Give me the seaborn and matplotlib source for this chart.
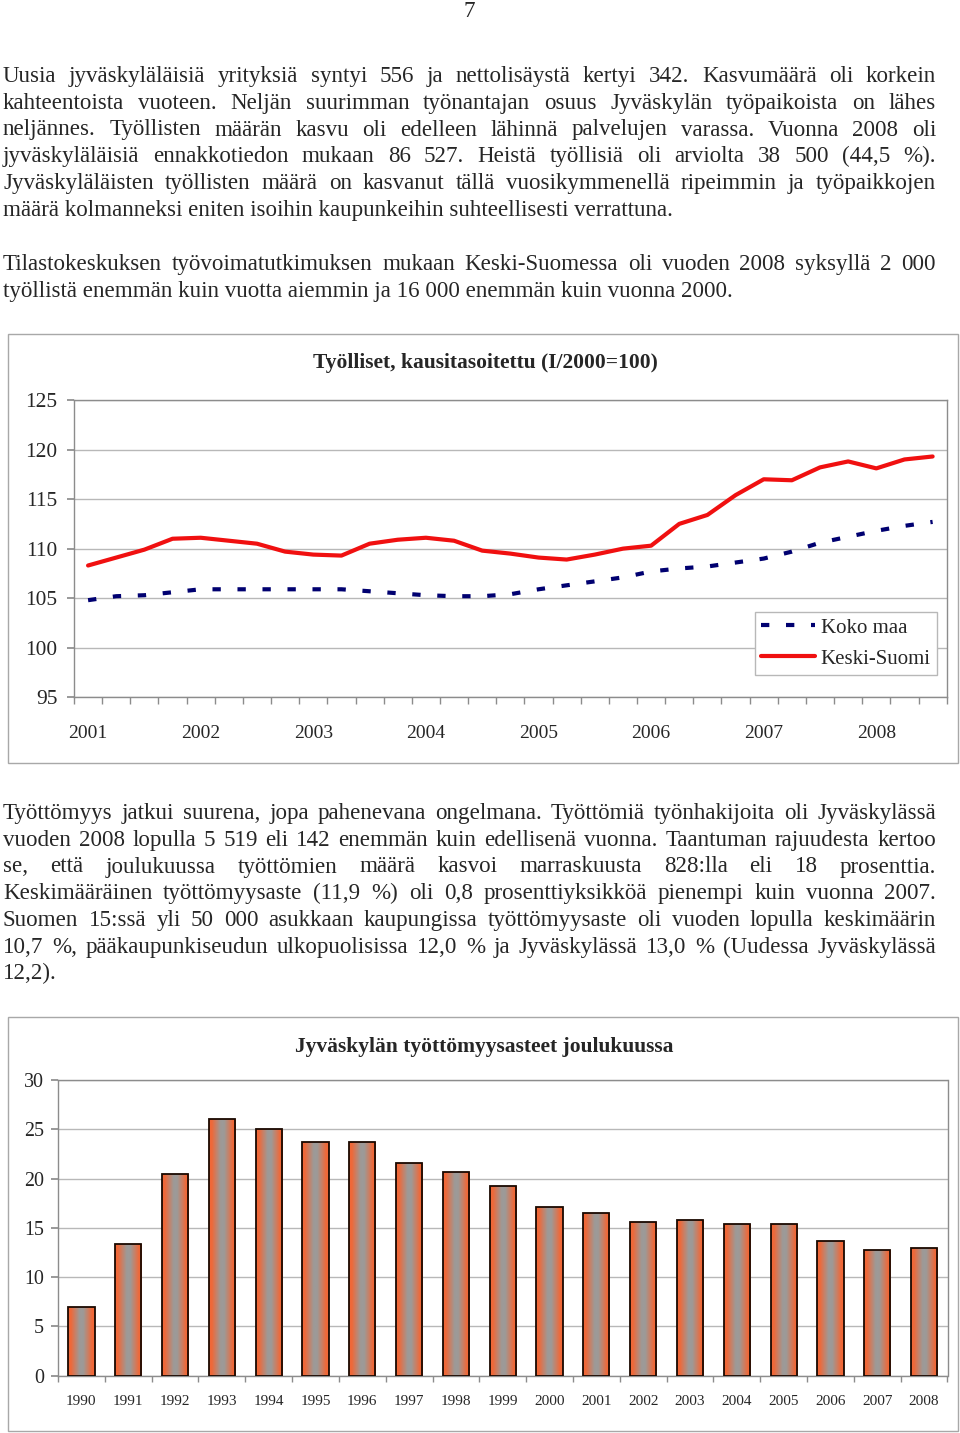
import numpy as np
import pandas as pd
import seaborn as sns
import matplotlib.pyplot as plt
import matplotlib.colors as mcolors
from matplotlib.lines import Line2D
from matplotlib.patches import Rectangle

# ---- data: työlliset, kausitasoitettu (I/2000=100), 2001/I ... 2008/III
quarters = [f'{y}/{q}' for y in range(2001, 2009) for q in range(1, 5)][:31]
year_labels = ['2001', '2002', '2003', '2004', '2005', '2006', '2007', '2008']
koko_maa = [104.8, 105.2, 105.3, 105.6, 105.9, 105.9, 105.9, 105.9, 105.9, 105.9,
            105.7, 105.5, 105.3, 105.2, 105.2, 105.4, 105.9, 106.3, 106.7, 107.1,
            107.7, 108.0, 108.2, 108.6, 109.0, 109.7, 110.6, 111.2, 111.8, 112.3, 112.7]
keski_suomi = [108.3, 109.1, 109.9, 111.0, 111.1, 110.8, 110.5, 109.7, 109.4, 109.3,
               110.5, 110.9, 111.1, 110.8, 109.8, 109.5, 109.1, 108.9, 109.4, 110.0,
               110.3, 112.5, 113.4, 115.4, 117.0, 116.9, 118.2, 118.8, 118.1, 119.0, 119.3]

# ---- data: Jyväskylän työttömyysasteet joulukuussa
bar_years = [str(y) for y in range(1990, 2009)]
tyottomyys = [7.0, 13.4, 20.5, 26.0, 25.0, 23.7, 23.7, 21.6, 20.7, 19.2,
              17.1, 16.5, 15.6, 15.8, 15.4, 15.4, 13.7, 12.8, 13.0]

para1 = [
    'Uusia jyväskyläläisiä yrityksiä syntyi 556 ja nettolisäystä kertyi 342. Kasvumäärä oli korkein',
    'kahteentoista vuoteen. Neljän suurimman työnantajan osuus Jyväskylän työpaikoista on lähes',
    'neljännes. Työllisten määrän kasvu oli edelleen lähinnä palvelujen varassa. Vuonna 2008 oli',
    'jyväskyläläisiä ennakkotiedon mukaan 86 527. Heistä työllisiä oli arviolta 38 500 (44,5 %).',
    'Jyväskyläläisten työllisten määrä on kasvanut tällä vuosikymmenellä ripeimmin ja työpaikkojen',
    'määrä kolmanneksi eniten isoihin kaupunkeihin suhteellisesti verrattuna.',
]
para2 = [
    'Tilastokeskuksen työvoimatutkimuksen mukaan Keski-Suomessa oli vuoden 2008 syksyllä 2 000',
    'työllistä enemmän kuin vuotta aiemmin ja 16 000 enemmän kuin vuonna 2000.',
]
para3 = [
    'Työttömyys jatkui suurena, jopa pahenevana ongelmana. Työttömiä työnhakijoita oli Jyväskylässä',
    'vuoden 2008 lopulla 5 519 eli 142 enemmän kuin edellisenä vuonna. Taantuman rajuudesta kertoo',
    'se, että joulukuussa työttömien määrä kasvoi marraskuusta 828:lla eli 18 prosenttia.',
    'Keskimääräinen työttömyysaste (11,9 %) oli 0,8 prosenttiyksikköä pienempi kuin vuonna 2007.',
    'Suomen 15:ssä yli 50 000 asukkaan kaupungissa työttömyysaste oli vuoden lopulla keskimäärin',
    '10,7 %, pääkaupunkiseudun ulkopuolisissa 12,0 % ja Jyväskylässä 13,0 % (Uudessa Jyväskylässä',
    '12,2).',
]

NAVY = '#000070'
RED = '#f01010'
GRID = '#b8b8b8'
SPINE = '#8c8c8c'
SERIF = ['Liberation Serif', 'DejaVu Serif']

sns.set_theme(style='white')
plt.rcParams['font.family'] = SERIF

W, H = 960, 1433
fig = plt.figure(figsize=(W / 100, H / 100), dpi=100)
renderer = fig.canvas.get_renderer()


def fx(x):
    return x / W


def fy(y):
    return 1 - y / H


def width_of(s, size):
    t = fig.text(0, 0, s, fontsize=size)
    w = t.get_window_extent(renderer).width
    t.remove()
    return w


# body text size fitted to the last line of the first paragraph
fs = 15 * 676 / width_of(para1[-1], 15)


def put_line(line, y, justify=True, left=3, right=936):
    if not justify:
        fig.text(fx(left), fy(y), line, fontsize=fs, va='baseline')
        return
    words = line.split(' ')
    widths = [width_of(w, fs) for w in words]
    gap = (right - left - sum(widths)) / (len(words) - 1)
    x = left
    for w, wd in zip(words, widths):
        fig.text(fx(x), fy(y), w, fontsize=fs, va='baseline')
        x += wd + gap


def put_par(lines, y0, step=26.75):
    for i, line in enumerate(lines):
        put_line(line, y0 + i * step, justify=(i < len(lines) - 1))


fig.text(fx(469), fy(17), '7', fontsize=fs, va='baseline', ha='center')
put_par(para1, 82)
put_par(para2, 270)
put_par(para3, 819)

# ---- line chart
fig.add_artist(Rectangle((fx(8), fy(763)), (958 - 8) / W, (763 - 334) / H,
                         transform=fig.transFigure, fill=False, edgecolor='#a8a8a8', lw=1))
fig.text(fx(485), fy(363), 'Työlliset, kausitasoitettu (I/2000=100)', ha='center', va='center',
         fontsize=15.5, fontweight='bold')

df_line = pd.DataFrame({
    'neljännes': quarters * 2,
    'indeksi': koko_maa + keski_suomi,
    'alue': ['Koko maa'] * len(quarters) + ['Keski-Suomi'] * len(quarters),
})
ax1 = fig.add_axes([fx(74), fy(697.3), (946.7 - 74) / W, (697.3 - 400) / H])
sns.lineplot(data=df_line, x='neljännes', y='indeksi', hue='alue', style='alue',
             hue_order=['Koko maa', 'Keski-Suomi'], style_order=['Koko maa', 'Keski-Suomi'],
             palette={'Koko maa': NAVY, 'Keski-Suomi': RED},
             dashes={'Koko maa': (2, 4), 'Keski-Suomi': ''},
             linewidth=3, sort=False, legend=False, ax=ax1)
ax1.set_xlim(-0.5, len(quarters) - 0.5)
ax1.set_ylim(95, 125)
ax1.set_yticks(range(95, 126, 5))
ax1.set_xticks(range(0, len(quarters), 4))
ax1.set_xticklabels(year_labels)
ax1.set_xticks(np.arange(-0.5, len(quarters), 1), minor=True)
ax1.set_xlabel('')
ax1.set_ylabel('')
ax1.yaxis.grid(True, color=GRID, lw=1)
ax1.set_axisbelow(True)
for s in ax1.spines.values():
    s.set_color(SPINE)
    s.set_linewidth(1)
ax1.tick_params(axis='x', which='major', length=0, pad=20, labelsize=14)
ax1.tick_params(axis='x', which='minor', length=5, color=SPINE, direction='out', bottom=True)
ax1.tick_params(axis='y', length=5, color=SPINE, direction='out', left=True, pad=7, labelsize=15.4)
ax1.legend(handles=[Line2D([], [], color=NAVY, lw=3, dashes=(2, 4)),
                    Line2D([], [], color=RED, lw=3)],
           labels=['Koko maa', 'Keski-Suomi'], loc='lower right', bbox_to_anchor=(0.989, 0.075),
           borderaxespad=0, fancybox=False, edgecolor='#b8b8b8', framealpha=1, fontsize=15,
           handlelength=2.55, handletextpad=0.3, labelspacing=0.55, borderpad=0.3)

# ---- bar chart
fig.add_artist(Rectangle((fx(8), fy(1431)), (958 - 8) / W, (1431 - 1017) / H,
                         transform=fig.transFigure, fill=False, edgecolor='#a8a8a8', lw=1))
fig.text(fx(484), fy(1047), 'Jyväskylän työttömyysasteet joulukuussa', ha='center', va='center',
         fontsize=15.5, fontweight='bold')

df_bar = pd.DataFrame({'vuosi': bar_years, 'aste': tyottomyys})
ax2 = fig.add_axes([fx(58), fy(1375.7), (947.5 - 58) / W, (1375.7 - 1080) / H])
sns.barplot(data=df_bar, x='vuosi', y='aste', color='#ee6a3c', saturation=1, width=0.56,
            edgecolor='#1a0800', linewidth=1.3, ax=ax2)

# orange-grey-orange shading inside each bar
t = np.linspace(0, 1, 64)
g = np.clip((1 - np.abs(2 * t - 1)) * 1.5 - 0.3, 0, 1)
c_edge = np.array(mcolors.to_rgb('#f06838'))
c_mid = np.array(mcolors.to_rgb('#9d9a98'))
grad = (c_edge[None, :] * (1 - g[:, None]) + c_mid[None, :] * g[:, None])[None, :, :]
for p in list(ax2.patches):
    x0, y0, w, h = p.get_x(), p.get_y(), p.get_width(), p.get_height()
    im = ax2.imshow(grad, extent=[x0, x0 + w, y0, y0 + h], aspect='auto', zorder=2,
                    interpolation='bilinear')
    im.set_clip_path(p)
    p.set_facecolor('none')
    p.set_zorder(3)

ax2.set_xlim(-0.5, len(bar_years) - 0.5)
ax2.set_ylim(0, 30)
ax2.set_yticks(range(0, 31, 5))
ax2.set_xticks(np.arange(-0.5, len(bar_years), 1), minor=True)
ax2.set_xlabel('')
ax2.set_ylabel('')
ax2.yaxis.grid(True, color=GRID, lw=1)
ax2.set_axisbelow(True)
for s in ax2.spines.values():
    s.set_color(SPINE)
    s.set_linewidth(1)
ax2.tick_params(axis='x', which='major', length=0, pad=14, labelsize=11)
ax2.tick_params(axis='x', which='minor', length=4, color=SPINE, direction='out', bottom=True)
ax2.tick_params(axis='y', length=5, color=SPINE, direction='out', left=True, pad=5, labelsize=14.4)

fig.savefig('out.png', dpi=100)
